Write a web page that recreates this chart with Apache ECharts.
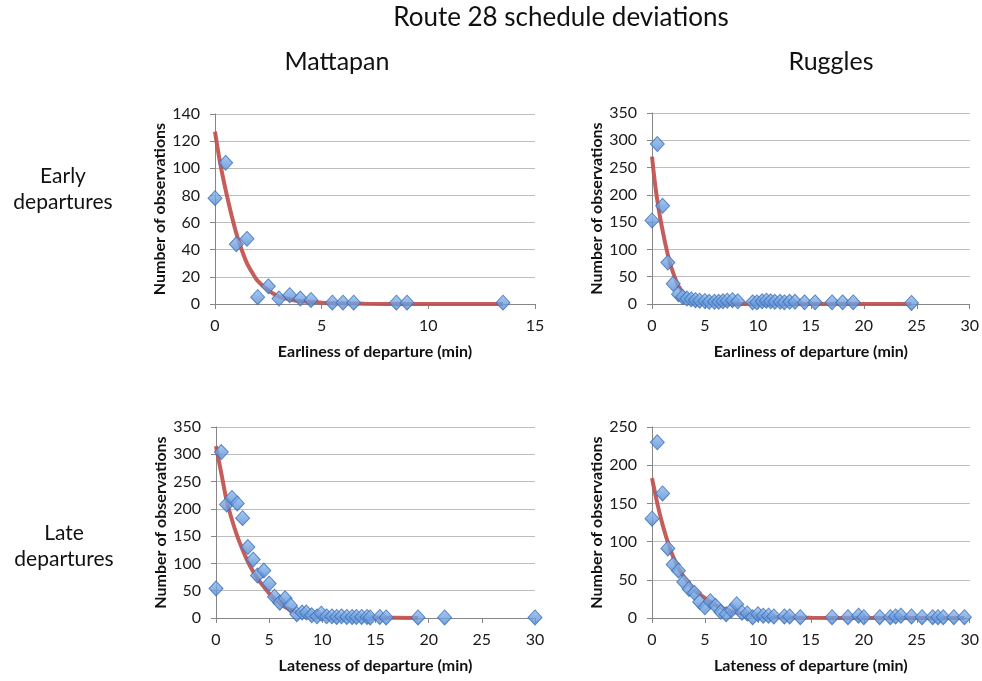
<!DOCTYPE html>
<html>
<head>
<meta charset="utf-8">
<script src="https://cdn.jsdelivr.net/npm/echarts@6/dist/echarts.min.js"></script>
<style>
html,body{margin:0;padding:0;background:#fff;}
#chart{width:982px;height:681px;}
</style>
</head>
<body>
<div id="chart"></div>
<script>
// ---- Data ----
const mainTitle = 'Route 28 schedule deviations';
const columnTitles = ['Mattapan', 'Ruggles'];
const rowTitles = ['Early\ndepartures', 'Late\ndepartures'];
const xNames = ['Earliness of departure (min)', 'Lateness of departure (min)'];
const yName = 'Number of observations';

// Mattapan, early departures
const mattEarlyPts = [[0,78],[0.5,104],[1,44],[1.5,48],[2,5],[2.5,13],[3,4],[3.5,6.5],[4,4],[4.5,3],[5.5,1],[6,1],[6.5,1],[8.5,1],[9,1],[13.5,1]];
const mattEarlyFit = [[0,127],[0.25,103],[0.5,84],[0.75,67],[1,52],[1.25,40],[1.5,30],[1.75,23],[2,17],[2.5,10],[3,5.5],[3.5,3.5],[4,2],[5,1],[6,0.5],[7,0.2],[9,0],[13.5,0]];

// Ruggles, early departures
const rugEarlyPts = [[0,153],[0.5,293],[1,180],[1.5,76],[2,37],[2.5,18],[2.9,13],[3.3,10],[3.7,8.5],[4.1,7],[4.5,6],[5,5.5],[5.4,4],[5.9,4],[6.3,4],[6.7,5],[7.1,6],[7.6,7],[8.1,5],[9.5,3],[9.9,3],[10.4,5],[10.8,6],[11.2,5],[11.6,4],[12.1,4],[12.5,3],[13,4],[13.5,4],[14.4,3],[15.4,3],[17,3],[18,3],[19,3],[24.5,2]];
const rugEarlyFit = [[0,270],[0.25,226],[0.5,190],[0.75,160],[1,135],[1.25,111],[1.5,90],[1.75,72],[2,57],[2.25,44],[2.5,33],[3,19],[3.5,12],[4,7],[5,3],[6,1],[7,0.4],[8,0],[24.5,0]];

// Mattapan, late departures
const mattLatePts = [[0,54],[0.5,304],[1,208],[1.5,220],[2,210],[2.5,183],[3,130],[3.5,107],[3.9,78],[4.5,87],[5,63],[5.5,39],[6,28],[6.5,36],[7,23],[7.6,7],[8.1,10],[8.5,10],[9,5],[9.5,3],[9.9,8],[10.4,3],[10.9,3],[11.35,2],[11.8,3],[12.3,2],[12.8,2],[13.2,2],[13.7,2],[14.2,2],[14.5,1],[15.4,2],[16,1],[19,1],[21.5,1],[30,1]];
const mattLateFit = [[0,315],[0.5,265],[1,215],[1.5,180],[2,150],[2.5,125],[3,103],[3.5,85],[4,70],[4.5,57],[5,45],[5.5,35],[6,27],[6.5,20],[7,15],[7.5,11],[8,8],[9,4],[10,2],[11,1.3],[12,1],[15,0.5],[19,0]];

// Ruggles, late departures
const rugLatePts = [[0,130],[0.5,230],[1,163],[1.5,91],[2,70],[2.5,62],[3,47],[3.5,38],[4,33],[4.5,21],[5,14],[5.5,22],[6,16],[6.5,8],[7,5],[7.5,10],[8,18],[8.5,7],[9,6],[9.5,1],[10,5],[10.5,3],[11,3],[11.5,2],[12.5,2],[13,2],[14,1],[17,1],[18.5,1],[19.5,3],[20,1],[21.5,1],[22.5,1],[23,2],[23.5,3],[24.5,2],[25.5,1],[26.5,1],[27,1],[27.5,1],[28.5,1],[29.5,1]];
const rugLateFit = [[0,183],[0.5,150],[1,122],[1.5,99],[2,80],[2.5,66],[3,54],[3.5,45],[4,37],[4.5,31],[5,26],[5.5,21],[6,17],[6.5,14],[7,11],[8,7],[9,4.5],[10,3],[12,1],[15,0.3],[20,0],[29.5,0]];

// axis ranges per panel: [xMax, xInterval, yMax, yInterval]
const panelAxes = [[15,5,140,20],[30,5,350,50],[30,5,350,50],[30,5,250,50]];
const panelPts = [mattEarlyPts, rugEarlyPts, mattLatePts, rugLatePts];
const panelFits = [mattEarlyFit, rugEarlyFit, mattLateFit, rugLateFit];

// ---- Layout / style ----
const FONT = 'Lato, "Noto Sans", sans-serif';
const grids = [
  {left:215, top:114, width:320, height:190},
  {left:652, top:113, width:318, height:191},
  {left:216, top:427, width:319, height:191},
  {left:652, top:427, width:318, height:191}
];
const axisGray = '#868686';
const gridGray = '#bdbdbd';

const xAxes = [], yAxes = [], series = [];
for (let i = 0; i < 4; i++) {
  const a = panelAxes[i];
  xAxes.push({
    type:'value', gridIndex:i, min:0, max:a[0], interval:a[1],
    name: xNames[i < 2 ? 0 : 1], nameLocation:'middle', nameGap:40,
    nameTextStyle:{fontFamily:FONT, fontWeight:'bold', fontSize:16, color:'#111'},
    axisLine:{show:true, onZero:false, lineStyle:{color:axisGray, width:1}},
    axisTick:{show:true, length:5, lineStyle:{color:axisGray}},
    axisLabel:{fontFamily:FONT, fontSize:16, color:'#1a1a1a', margin:14},
    splitLine:{show:false}
  });
  yAxes.push({
    type:'value', gridIndex:i, min:0, max:a[2], interval:a[3],
    name: yName, nameLocation:'middle', nameGap:47,
    nameTextStyle:{fontFamily:FONT, fontWeight:'bold', fontSize:16, color:'#111'},
    axisLine:{show:true, lineStyle:{color:axisGray, width:1}},
    axisTick:{show:true, length:5, lineStyle:{color:axisGray}},
    axisLabel:{fontFamily:FONT, fontSize:16, color:'#1a1a1a', margin:15},
    splitLine:{show:true, lineStyle:{color:gridGray, width:1}}
  });
  series.push({
    type:'line', xAxisIndex:i, yAxisIndex:i, data:panelFits[i],
    smooth:0.3, showSymbol:false, symbol:'none',
    lineStyle:{color:'#c0504d', width:4, opacity:0.92}, z:2, silent:true
  });
  series.push({
    type:'scatter', xAxisIndex:i, yAxisIndex:i, data:panelPts[i],
    symbol:'diamond', symbolSize:[14,15],
    itemStyle:{
      color:{type:'linear', x:0, y:0, x2:0, y2:1, colorStops:[
        {offset:0, color:'#93bcef'},{offset:1, color:'#5289d3'}]},
      borderColor:'#3d70b5', borderWidth:1
    },
    z:3
  });
}

const textStyle = (t, x, y, size) => ({
  type:'text', x:x, y:y,
  style:{text:t, fontFamily:FONT, fontSize:size, fill:'#111', align:'center', verticalAlign:'middle', lineHeight:Math.round(size*1.25)}
});

const chart = echarts.init(document.getElementById('chart'), null, {renderer:'canvas'});
chart.setOption({
  animation:false,
  backgroundColor:'#ffffff',
  grid:grids,
  xAxis:xAxes,
  yAxis:yAxes,
  series:series,
  graphic:[
    textStyle(mainTitle, 561, 18, 26),
    textStyle(columnTitles[0], 337, 62, 25),
    textStyle(columnTitles[1], 831, 62, 25),
    textStyle(rowTitles[0], 63, 189, 21),
    textStyle(rowTitles[1], 64, 546, 21)
  ]
});
</script>
</body>
</html>
